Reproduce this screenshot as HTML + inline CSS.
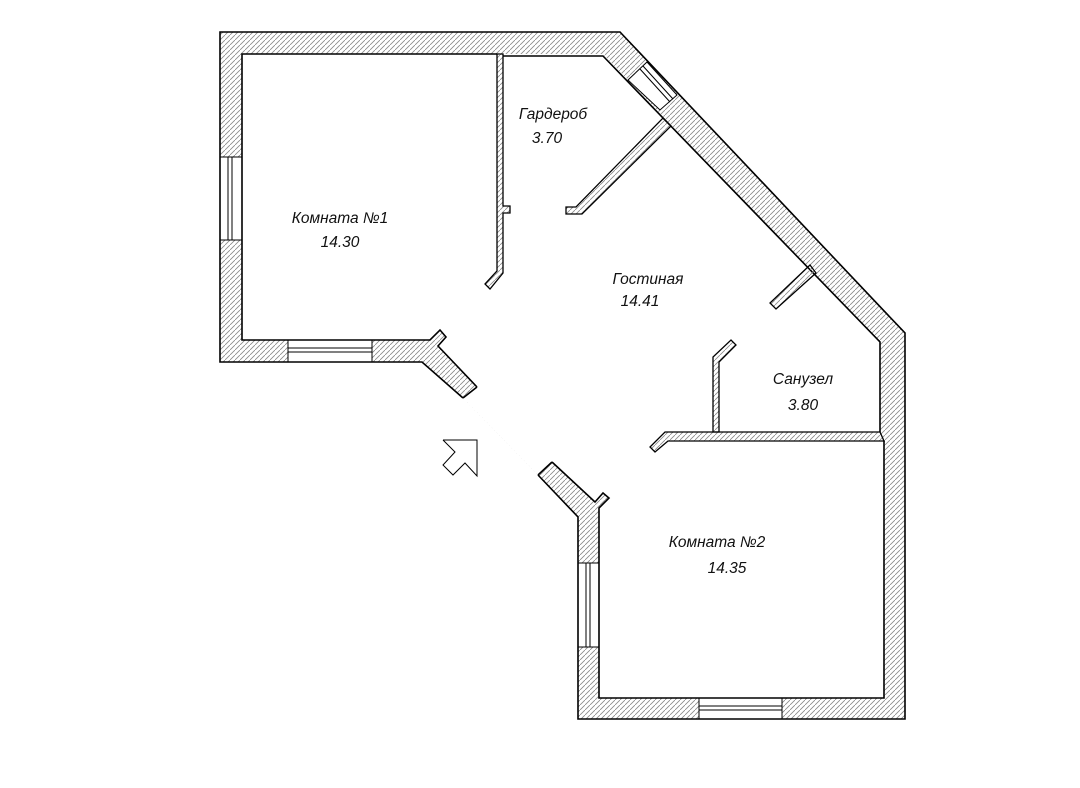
<!DOCTYPE html>
<html><head><meta charset="utf-8"><style>
html,body{margin:0;padding:0;background:#fff}
svg{display:block}
text{font-family:"Liberation Sans","DejaVu Sans",sans-serif;font-style:italic;font-size:15.5px;fill:#111;text-anchor:middle}
</style></head><body>
<svg width="1080" height="788" viewBox="0 0 1080 788" xmlns="http://www.w3.org/2000/svg">
<defs>
<pattern id="h" patternUnits="userSpaceOnUse" width="5" height="5">
<path d="M-1,6 L6,-1" stroke="#888" stroke-width="0.8"/>
</pattern>
</defs>
<rect width="1080" height="788" fill="#fff"/>
<polygon fill="url(#h)" points="220,32 620,32 905,333 905,719 578,719 578,517 538,475 463,398 422,362 220,362"/>
<polygon fill="#fff" points="242,54 603,54 880,342 880,432 884,441 884,698 599,698 599,508 609,498 603,493 595,502 552,462 538,475 463,398 477,387 438,346 446,337 440,330 430,340 242,340"/>
<g fill="#fff" stroke="#000" stroke-width="1">
<rect x="220" y="157" width="22" height="83"/>
<line x1="228" y1="157" x2="228" y2="240"/><line x1="232" y1="157" x2="232" y2="240"/>
<rect x="288" y="340" width="84" height="22"/>
<line x1="288" y1="348" x2="372" y2="348"/><line x1="288" y1="352" x2="372" y2="352"/>
<rect x="578" y="563" width="21" height="84"/>
<line x1="586" y1="563" x2="586" y2="647"/><line x1="590" y1="563" x2="590" y2="647"/>
<rect x="699" y="698" width="83" height="21"/>
<line x1="699" y1="706" x2="782" y2="706"/><line x1="699" y1="710" x2="782" y2="710"/>
<polygon points="647,62 677,95 660,110 628,80"/>
<line x1="640" y1="69" x2="670" y2="102"/><line x1="643" y1="66" x2="673" y2="99"/>
</g>
<g fill="none" stroke="#000" stroke-width="1.6" stroke-linejoin="miter">
<polyline points="463,398 422,362 220,362 220,32 620,32 905,333 905,719 578,719 578,517 538,475"/>
<line x1="463" y1="398" x2="477" y2="387"/>
<line x1="538" y1="475" x2="552" y2="462"/>
<polyline points="477,387 438,346 446,337 440,330 430,340 242,340 242,54 497,54"/>
<polyline points="503,56 603,56 880,342 880,432"/>
<polyline points="884,441 884,698 599,698 599,508 609,498 603,493 595,502 552,462"/>
</g>
<g fill="url(#h)" stroke="#000" stroke-width="1.3">
<polygon points="497,54 503,54 503,206 510,206 510,213 503,213 503,273 490,289 485,284 497,271"/>
<polygon points="663,118 671,126 582,214 566,214 566,207 576,207"/>
<polygon points="810,265 816,273 776,309 770,303"/>
<polygon points="665,432 880,432 884,441 668,441 655,452 650,447"/>
<polygon points="713,432 713,357 731,340 736,345 719,362 719,432"/>
</g>
<polyline fill="none" stroke="#000" stroke-width="1" points="443,440 477,440 477,476 465,463 453,475 443,465 455,452 443,440"/>
<text x="340" y="223">Комната №1</text>
<text x="340" y="247">14.30</text>
<text x="553" y="119">Гардероб</text>
<text x="547" y="143">3.70</text>
<text x="648" y="284">Гостиная</text>
<text x="640" y="306">14.41</text>
<text x="803" y="384">Санузел</text>
<text x="803" y="410">3.80</text>
<text x="717" y="547">Комната №2</text>
<text x="727" y="573">14.35</text>
</svg>
</body></html>
